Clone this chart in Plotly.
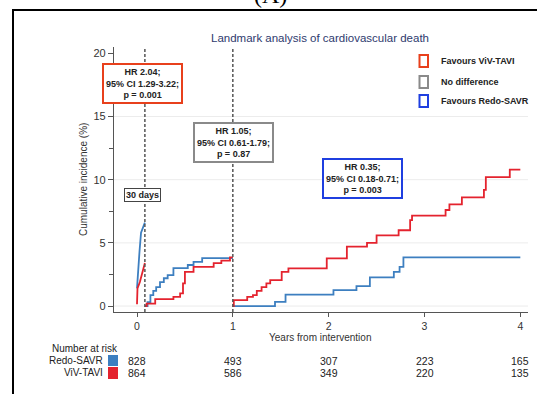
import plotly.graph_objects as go

# ---------------- data ----------------
landmark_30d = 30 / 365

# Period 1: 0-30 days
p1_t_savr = [0.0, 0.01, 0.026, 0.042, 0.063, landmark_30d]
p1_y_savr = [1.4, 3.0, 4.3, 5.8, 6.2, 6.6]
p1_t_tavi = [0.0, 0.005, 0.03, 0.05, 0.07, landmark_30d]
p1_y_tavi = [0.15, 1.4, 1.9, 2.45, 3.1, 3.4]

# Period 2: 30 days - 1 year
p2_t_savr = [landmark_30d, 0.11, 0.14, 0.17, 0.20, 0.24, 0.28, 0.32, 0.38, 0.53, 0.59, 0.68, 1.0]
p2_y_savr = [0.0, 0.3, 0.87, 1.2, 1.5, 1.9, 2.2, 2.45, 3.0, 3.25, 3.5, 3.8, 3.8]
p2_t_tavi = [landmark_30d, 0.10, 0.19, 0.38, 0.45, 0.48, 0.50, 0.59, 0.80, 0.88, 0.97, 1.0]
p2_y_tavi = [0.0, 0.2, 0.55, 0.73, 1.0, 1.8, 2.7, 3.1, 3.4, 3.6, 3.85, 3.85]

# Period 3: 1 - 4 years
p3_t_savr = [1.0, 1.44, 1.55, 2.05, 2.29, 2.43, 2.68, 2.74, 2.78, 4.0]
p3_y_savr = [0.0, 0.33, 0.9, 1.26, 1.58, 2.27, 2.7, 3.1, 3.85, 3.85]
p3_t_tavi = [1.0, 1.01, 1.15, 1.21, 1.25, 1.30, 1.35, 1.39, 1.51, 1.58, 1.98, 2.19, 2.40,
             2.50, 2.73, 2.85, 2.87, 3.22, 3.26, 3.39, 3.62, 3.64, 3.89, 4.0]
p3_y_tavi = [0.0, 0.47, 0.73, 0.87, 1.2, 1.5, 1.8, 2.05, 2.7, 2.98, 3.77, 4.7, 5.0,
             5.6, 6.0, 6.8, 7.15, 7.6, 8.05, 8.6, 9.2, 10.2, 10.8, 10.8]

risk_times = [0, 1, 2, 3, 4]
risk_savr = [828, 493, 307, 223, 165]
risk_tavi = [864, 586, 349, 220, 135]

x_ticks = [0, 1, 2, 3, 4]
y_ticks = [0, 5, 10, 15, 20]

box_texts = [
    "HR 2.04;<br>95% CI 1.29-3.22;<br>p = 0.001",
    "HR 1.05;<br>95% CI 0.61-1.79;<br>p = 0.87",
    "HR 0.35;<br>95% CI 0.18-0.71;<br>p = 0.003",
]
legend_labels = ["Favours ViV-TAVI", "No difference", "Favours Redo-SAVR"]

# ---------------- styles ----------------
BLUE = "#3d7fc0"
RED = "#e4232e"
BOX_RED = "#e8401c"
BOX_GRAY = "#8a8a8a"
BOX_BLUE = "#1f3fe0"
FONT = "Liberation Sans, Arial, sans-serif"

W, H = 537, 394
ML, MR, MT, MB = 114, 9, 47, 82
PW, PH = W - ML - MR, H - MT - MB


def px(x):
    return (x - ML) / PW


def py(y):
    return (H - MB - y) / PH


def text_ann(text, x, y, size=10.5, color="#222", xanchor="center", yanchor="middle", **kw):
    d = dict(text=text, xref="paper", yref="paper", x=px(x), y=py(y), xanchor=xanchor,
             yanchor=yanchor, showarrow=False, font=dict(family=FONT, size=size, color=color))
    d.update(kw)
    return d


fig = go.Figure()

for t, y, c in [
    (p1_t_savr, p1_y_savr, BLUE), (p1_t_tavi, p1_y_tavi, RED),
]:
    fig.add_trace(go.Scatter(x=t, y=y, mode="lines", line=dict(color=c, width=1.8),
                             showlegend=False, hoverinfo="skip"))
for t, y, c in [
    (p2_t_savr, p2_y_savr, BLUE), (p2_t_tavi, p2_y_tavi, RED),
    (p3_t_savr, p3_y_savr, BLUE), (p3_t_tavi, p3_y_tavi, RED),
]:
    fig.add_trace(go.Scatter(x=t, y=y, mode="lines", line=dict(color=c, width=1.8, shape="hv"),
                             showlegend=False, hoverinfo="skip"))

shapes = []
# gridlines
for g in y_ticks[:-1]:
    shapes.append(dict(type="line", xref="paper", yref="y", x0=0, x1=1, y0=g, y1=g,
                       line=dict(color="#ececec", width=1), layer="below"))
# landmark dashed lines
for lx in [landmark_30d, 1.0]:
    shapes.append(dict(type="line", xref="x", yref="y", x0=lx, x1=lx, y0=-0.47, y1=20.5,
                       line=dict(color="#555555", width=1.5, dash="3px,2px")))
# outer frame of the panel
shapes.append(dict(type="line", xref="paper", yref="paper", x0=px(12), x1=px(537),
                   y0=py(10), y1=py(10), line=dict(color="black", width=2)))
shapes.append(dict(type="line", xref="paper", yref="paper", x0=px(13), x1=px(13),
                   y0=py(10), y1=py(394), line=dict(color="black", width=2)))
# legend boxes
for (yc, col) in [(61, BOX_RED), (82, BOX_GRAY), (101, BOX_BLUE)]:
    shapes.append(dict(type="rect", xref="paper", yref="paper", x0=px(419.5), x1=px(428),
                       y0=py(yc - 6), y1=py(yc + 6), line=dict(color=col, width=2),
                       fillcolor="white"))
# risk-table colour squares
shapes.append(dict(type="rect", xref="paper", yref="paper", x0=px(108), x1=px(118),
                   y0=py(355), y1=py(366), line=dict(width=0), fillcolor=BLUE))
shapes.append(dict(type="rect", xref="paper", yref="paper", x0=px(108), x1=px(118),
                   y0=py(367), y1=py(379), line=dict(width=0), fillcolor=RED))

ann = []
ann.append(text_ann("Landmark analysis of cardiovascular death", 320, 38, size=11.5, color="#2e3a6e"))
ann.append(dict(text="(A)", xref="paper", yref="paper", x=px(270), y=py(10), yanchor="bottom",
                xanchor="center", showarrow=False,
                font=dict(family="Liberation Serif, serif", size=24, color="black")))
for (yc, lab) in zip([61, 82, 101], legend_labels):
    ann.append(text_ann("<b>%s</b>" % lab, 439, yc, size=9, xanchor="left"))
for (xc, yc, col, txt) in [(142.5, 83, BOX_RED, box_texts[0]),
                           (233, 142.5, BOX_GRAY, box_texts[1]),
                           (362.5, 178, BOX_BLUE, box_texts[2])]:
    ann.append(text_ann("<b>%s</b>" % txt, xc, yc, size=9, bgcolor="white", bordercolor=col,
                        borderwidth=2, borderpad=2))
ann.append(text_ann("<b>30 days</b>", 142, 195, size=9, bgcolor="white", bordercolor="#444",
                    borderwidth=1, borderpad=1))
# axis titles
ann.append(text_ann("Years from intervention", 320, 337, size=10, color="#333"))
ann.append(text_ann("Cumulative incidence (%)", 83, 180, size=10, color="#333", textangle=-90))
# risk table
ann.append(text_ann("Number at risk", 120, 348, size=10, xanchor="right"))
ann.append(text_ann("Redo-SAVR", 104.5, 360.5, size=10, xanchor="right"))
ann.append(text_ann("ViV-TAVI", 104.5, 372.5, size=10, xanchor="right"))
for t, a, b in zip(risk_times, risk_savr, risk_tavi):
    ann.append(dict(text=str(a), xref="x", yref="paper", x=t, y=py(360.5), showarrow=False,
                    xanchor="center", yanchor="middle",
                    font=dict(family=FONT, size=10.5, color="#222")))
    ann.append(dict(text=str(b), xref="x", yref="paper", x=t, y=py(372.5), showarrow=False,
                    xanchor="center", yanchor="middle",
                    font=dict(family=FONT, size=10.5, color="#222")))

fig.update_layout(
    width=W, height=H,
    margin=dict(l=ML, r=MR, t=MT, b=MB, autoexpand=False),
    paper_bgcolor="white", plot_bgcolor="white",
    shapes=shapes, annotations=ann,
    font=dict(family=FONT, color="#333"),
    xaxis=dict(range=[-0.24, 4.08], tickvals=x_ticks, ticks="outside", ticklen=4, tickcolor="#555",
               showline=True, linecolor="#555", linewidth=1.2, showgrid=False, zeroline=False,
               tickfont=dict(size=10.5, color="#333")),
    yaxis=dict(range=[-0.47, 20.5], tickvals=y_ticks, ticks="outside", ticklen=5, tickcolor="#555",
               showline=True, linecolor="#555", linewidth=1.2, showgrid=False, zeroline=False,
               tickfont=dict(size=11, color="#333"),
               minor=dict(tickvals=[2.5, 7.5, 12.5, 17.5], ticks="outside", ticklen=4, tickcolor="#555")),
)

fig.write_html("out.html")
